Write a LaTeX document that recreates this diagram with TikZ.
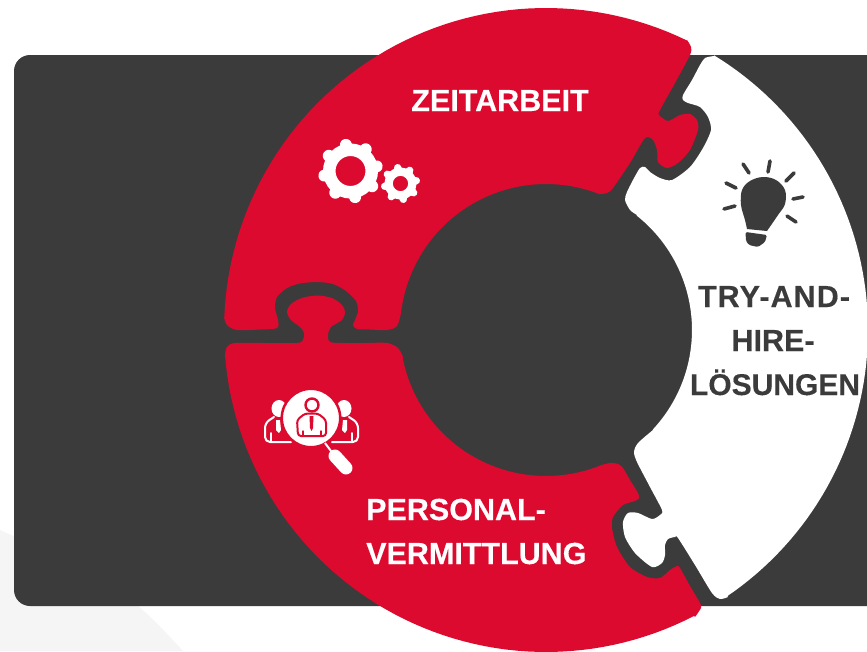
\documentclass[tikz,border=0pt]{standalone}
\usepackage{fontspec}
\setmainfont{Liberation Sans}
\definecolor{dark}{HTML}{3B3B3B}
\definecolor{brandred}{HTML}{DC0A2F}
\definecolor{pale}{HTML}{F5F5F5}
\tikzset{
  lbl/.style={font=\fontsize{30.5}{44}\selectfont\bfseries\addfontfeature{FakeBold=0.3},inner sep=0pt},
  ray/.style={draw=dark,line width=3.6pt,line cap=round},
  iconline/.style={draw=white,line width=2pt,line join=round,line cap=round},
  iconred/.style={draw=brandred,line width=2pt,line join=round,line cap=round}
}
\begin{document}
\begin{tikzpicture}[x=1pt,y=-1pt]
\useasboundingbox (0,0) rectangle (867,651);
\clip (0,0) rectangle (867,651);
% pale background shape
\fill[pale] plot[smooth] coordinates {(0,530)(70,563)(138,606)(183,651)} -- (0,651) -- cycle;
% dark panel
\fill[dark,rounded corners=16pt] (14,55) rectangle (920,606);
% top red piece
\fill[brandred]
  plot[domain=182.3:295.9,samples=60] ({546+322*cos(\x)},{330+322*sin(\x)})
  -- plot[smooth,tension=0.45] coordinates {(687,40)(691,47)(690,55)(675,83)(660,110)(659,115)(668,121)(680,115)(690,114)(697,120)(698,130)(690,150)(678,163)(667,168)(658,162)(657,150)(653,140)(645,138)(630,163)(613,188)(607,193)(600,194)}
  -- plot[domain=291.7:186.7,samples=50] ({546+146*cos(\x)},{330+146*sin(\x)})
  -- plot[smooth,tension=0.5] coordinates {(401,313)(397,326)(387,330)(370,329.5)(357,329)(353,325)(355,320)(358,311)(356,301)(346,291)(333,284)(317,282)(300,283.5)(287,288)(277,297)(275,308)(278,320)(277,328)(260,329.5)(237,330)(227,325)(224,317)}
  -- cycle;
% lower red piece
\fill[brandred]
  plot[smooth,tension=0.5] coordinates {(225,355)(227,347)(235,343)(265,343)(297,343)(303,340)(304,333)(300,327)(291,320)(287,312)(291,304)(302,298)(317,295.5)(332,298)(342,305)(345,312)(342,320)(331,327)(328,335)(330,342)(343,343)(365,343)(387,343)(398,348)(403,357)}
  -- plot[domain=169.3:68.2,samples=50] ({546+146*cos(\x)},{330+146*sin(\x)})
  -- plot[smooth,tension=0.45] coordinates {(600,465.5)(610,463)(618,464)(623,468)(630,480)(638,493)(639,498)(635,501)(623,505)(613,517)(612,528)(617,547)(630,567)(647,577)(660,578)(670,570)(677,566)(680,568)(690,586)(700,603)(701,608)(695,617)}
  -- plot[domain=62.6:175.5,samples=60] ({546+322*cos(\x)},{330+322*sin(\x)})
  -- cycle;
% white piece
\fill[white]
  plot[domain=55.7:-58.5,samples=70] ({546+322*cos(\x)},{330+322*sin(\x)})
  -- plot[smooth,tension=0.45] coordinates {(714,56)(705,58)(700,65)(692,80)(683,95)(683,100)(688,103)(700,107)(708,117)(711,130)(703,148)(690,167)(672,180)(660,178)(650,172)(645,167)(640,168)(633,180)(627,192)(625,200)(630,210)(637,215)}
  -- plot[domain=-51.6:43,samples=50] ({546+146*cos(\x)},{330+146*sin(\x)})
  -- plot[smooth,tension=0.45] coordinates {(653,430)(638,443)(634,452)(637,462)(650,487)(662,510)(660,515)(652,519)(638,513)(628,513)(623,522)(625,537)(635,553)(652,567)(662,563)(665,555)(665,545)(668,539)(675,537)(678,538)(695,565)(712,593)(720,599)(728,597)}
  -- cycle;
% gears
\draw[white,line width=12.5pt] (350.5,171) circle[radius=21.25];
\foreach \a in {-100,-55,-10,35,80,125,170,215}
  \draw[white,line width=12pt,line cap=round] ({350.5+22*cos(\a)},{171+22*sin(\a)}) -- ({350.5+26.5*cos(\a)},{171+26.5*sin(\a)});
\draw[white,line width=8.3pt] (400.5,183.5) circle[radius=11.9];
\foreach \a in {-100,-55,-10,35,80,125,170,215}
  \draw[white,line width=7.5pt,line cap=round] ({400.5+12.5*cos(\a)},{183.5+12.5*sin(\a)}) -- ({400.5+16*cos(\a)},{183.5+16*sin(\a)});
% bulb
\fill[dark] plot[smooth,tension=0.6] coordinates {(747,229)(745,220)(741,205)(742,190)(750,181)(763,177)(776,180)(785,190)(785,204)(778,215)(767,231)} -- cycle;
\fill[dark,rounded corners=1.5pt] (745.5,232) -- (767,235) -- (765,242) -- (758,247) -- (749,245) -- (746,241) -- cycle;
\draw[ray] (743,164) -- (749,173);
\draw[ray] (770,161) -- (768,172);
\draw[ray] (794,173) -- (786,181);
\draw[ray] (803,197) -- (793,199);
\draw[ray] (796,222) -- (787,216);
\draw[ray] (735,206) -- (724,209);
\draw[ray] (736,188) -- (726,183);
% people icon: side figures
\fill[white] (279,408.5) ellipse[x radius=7.5,y radius=8.5];
\fill[white] (344,408.5) ellipse[x radius=7.5,y radius=8.5];
\draw[iconline,rounded corners=5pt] (291,442) -- (265,442) -- (265,423) -- (274,417);
\draw[iconline,rounded corners=5pt] (332,442) -- (358,442) -- (358,423) -- (349,417);
\fill[white] (276,420) -- (280,420) -- (281,430) -- (279,433) -- (276,430) -- cycle;
\fill[white] (343,420) -- (347,420) -- (347,430) -- (345,433) -- (342,430) -- cycle;
\draw[iconline,line width=1.6pt] (271,433) -- (271,442);
\draw[iconline,line width=1.6pt] (352,433) -- (352,442);
% magnifier
\fill[white,draw=brandred,line width=2.5pt] (311,418) circle[radius=29.2];
\draw[white,line width=2pt] (325,443) -- (334,455);
\draw[white,line width=13pt,line cap=round] (335,456) -- (346,468);
% central person
\fill[white,draw=brandred,line width=2.4pt] (312,405) circle[radius=6.5];
\draw[iconred,rounded corners=3pt] (298,436) -- (297,420) -- (305,413.5) -- (318,413.5) -- (326,420) -- (326,436) -- cycle;
\fill[brandred] (309.5,416) -- (313.5,416) -- (313,428) -- (311.5,431) -- (310,428) -- cycle;
\draw[iconred,line width=1.4pt] (303,431) -- (303,436);
\draw[iconred,line width=1.4pt] (321,431) -- (321,436);
% labels
\node[lbl,text=white,anchor=base] (zeit) at (500,111) {ZEITARBEIT};
\node[lbl,text=dark,anchor=base] (try) at (774,307) {\addfontfeature{LetterSpace=3.5}TRY-AND-};
\node[lbl,text=dark,anchor=base] (hire) at (773,351) {HIRE-};
\node[lbl,text=dark,anchor=base] (loes) at (775,395) {\fontsize{30}{44}\selectfont LÖSUNGEN};
\node[lbl,text=white,anchor=base west] (pers) at (366,520) {PERSONAL-};
\node[lbl,text=white,anchor=base west] (verm) at (366,564) {VERMITTLUNG};
\end{tikzpicture}
\end{document}
